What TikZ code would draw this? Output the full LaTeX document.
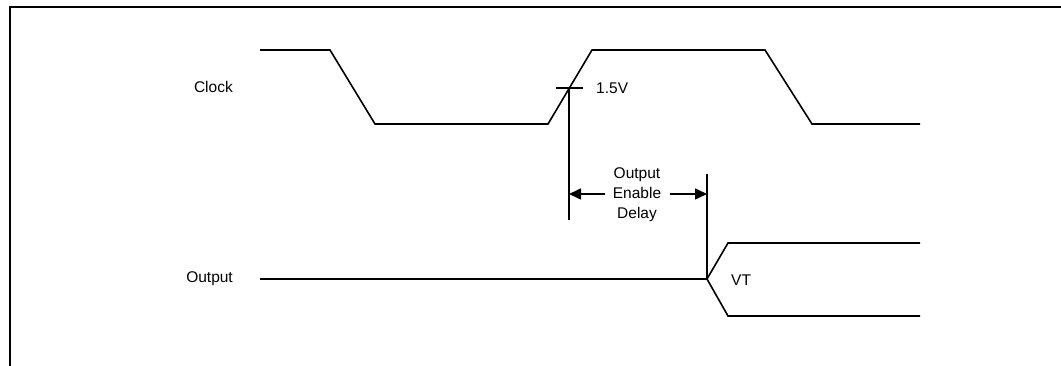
\documentclass[tikz,border=0pt]{standalone}
\usepackage{fontspec}
\setmainfont{Liberation Sans}
\usetikzlibrary{arrows.meta}
\begin{document}
\begin{tikzpicture}[x=1pt,y=-1pt,
  frame/.style={line width=2.6pt},
  sig/.style={line width=1.6pt, line join=miter},
  dim/.style={line width=1.6pt},
  lbl/.style={font=\fontsize{15.5}{20}\selectfont, inner sep=0pt},
  arr/.style={line width=1.6pt, -{Triangle[length=12pt,width=11pt]}}]
\useasboundingbox (0,0) rectangle (1061,366);
% frame
\draw[frame] (1062,7) -- (10,7) -- (10,367);
% Clock waveform
\draw[sig] (260,50) -- (330,50) -- (375,124) -- (548,124) -- (592,50) -- (765,50) -- (812,124) -- (920,124);
\node[lbl, anchor=east] (clk) at (233,87) {Clock};
% 1.5V mark
\coordinate (tl) at (556,88);
\coordinate (tr) at (583,88);
\draw[dim] (tl) -- (tr);
\node[lbl, anchor=west] (v15) at (596,88) {1.5V};
\coordinate (c1) at (569,88);
\coordinate (c1b) at (569,220);
\draw[dim] (c1) -- (c1b);
% Output waveform
\node[lbl, anchor=east] (out) at (233,279) {Output};
\coordinate (ot) at (707,279);
\draw[sig] (260,279) -- (ot);
\draw[sig] (920,243) -- (728,243) -- (ot) -- (728,316) -- (920,316);
\node[lbl, anchor=west] (vt) at (731,280) {VT};
% delay marker
\coordinate (d2t) at (707,174);
\draw[dim] (d2t) -- (ot);
\node[lbl, align=center] (oed) at (637,195) {Output\\Enable\\Delay};
\coordinate (a1) at (569,194);
\coordinate (a2) at (707,194);
\draw[arr] (605,194) -- (a1);
\draw[arr] (670,194) -- (a2);
\end{tikzpicture}
\end{document}
